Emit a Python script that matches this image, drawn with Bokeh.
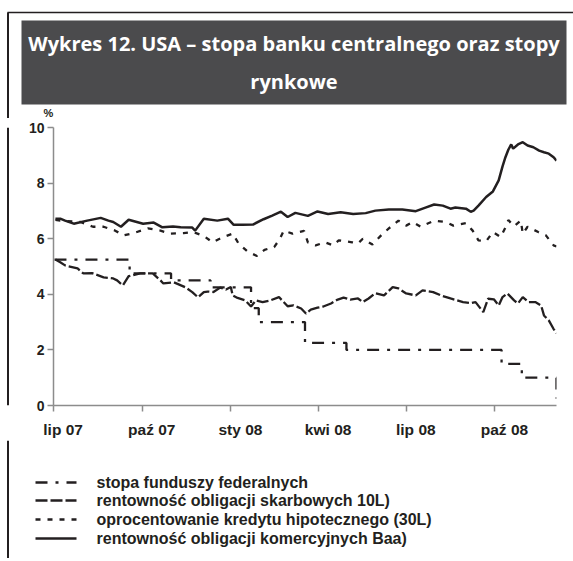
import pandas as pd
from bokeh.plotting import figure
from bokeh.models import Range1d, FixedTicker
from bokeh.layouts import column, row
from bokeh.embed import file_html
from bokeh.resources import INLINE
from bokeh.core.properties import value

# ---------------- data ----------------
TITLE_LINES = ["Wykres 12. USA \u2013 stopa banku centralnego oraz stopy", "rynkowe"]
Y_UNIT = "%"
tick_dates = ["2007-07-01", "2007-10-01", "2008-01-01", "2008-04-01", "2008-07-01", "2008-10-01"]
tick_labels = ["lip 07", "pa\u017a 07", "sty 08", "kwi 08", "lip 08", "pa\u017a 08"]
y_ticks = [0, 2, 4, 6, 8, 10]
x_start = "2007-07-01"
x_end = "2008-12-04"

legend_labels = [
    "stopa funduszy federalnych",
    "rentowno\u015b\u0107 obligacji skarbowych 10L)",
    "oprocentowanie kredytu hipotecznego (30L)",
    "rentowno\u015b\u0107 obligacji komercyjnych Baa)",
]

# federal funds target rate (step changes)
fed_dates = ["2007-07-02", "2007-09-18", "2007-10-31", "2007-12-11", "2008-01-22",
             "2008-01-30", "2008-03-18", "2008-04-30", "2008-10-08", "2008-10-29",
             "2008-12-04"]
fed_values = [5.25, 4.75, 4.50, 4.25, 3.50, 3.00, 2.25, 2.00, 1.50, 1.00, 0.25]

# 10-year treasury yield
t10_dates = ["2007-07-03", "2007-07-08", "2007-07-13", "2007-07-26", "2007-08-01",
             "2007-08-10", "2007-08-22", "2007-09-01", "2007-09-05", "2007-09-11",
             "2007-09-17", "2007-09-29", "2007-10-12", "2007-10-20", "2007-10-23",
             "2007-11-03", "2007-11-15", "2007-11-22", "2007-11-28", "2007-12-04",
             "2007-12-08", "2007-12-14", "2007-12-21", "2007-12-27", "2008-01-01",
             "2008-01-03", "2008-01-08", "2008-01-16", "2008-01-22", "2008-01-27",
             "2008-02-03", "2008-02-11", "2008-02-20", "2008-02-29", "2008-03-06",
             "2008-03-14", "2008-03-19", "2008-03-24", "2008-03-31", "2008-04-06",
             "2008-04-14", "2008-04-21", "2008-04-27", "2008-05-04", "2008-05-12",
             "2008-05-17", "2008-05-23", "2008-05-30", "2008-06-08", "2008-06-17",
             "2008-06-23", "2008-07-01", "2008-07-11", "2008-07-18", "2008-07-29",
             "2008-08-06", "2008-08-16", "2008-08-29", "2008-09-06", "2008-09-11",
             "2008-09-19", "2008-09-24", "2008-09-30", "2008-10-05", "2008-10-09",
             "2008-10-14", "2008-10-21", "2008-10-25", "2008-10-30", "2008-11-05",
             "2008-11-12", "2008-11-18", "2008-11-21", "2008-11-26", "2008-12-01",
             "2008-12-04"]
t10_values = [5.25, 5.15, 5.04, 4.93, 4.75, 4.76, 4.61, 4.57, 4.50, 4.32,
              4.65, 4.75, 4.75, 4.50, 4.39, 4.43, 4.25, 4.08, 3.89, 4.08,
              4.10, 4.08, 4.24, 4.17, 4.26, 3.96, 3.87, 3.78, 3.56, 3.78,
              3.72, 3.78, 3.90, 3.57, 3.60, 3.49, 3.31, 3.45, 3.52, 3.56,
              3.67, 3.81, 3.88, 3.81, 3.85, 3.72, 3.85, 4.04, 3.96, 4.26,
              4.21, 4.03, 3.96, 4.14, 4.08, 3.96, 3.85, 3.72, 3.68, 3.72,
              3.36, 3.84, 3.82, 3.60, 3.90, 4.03, 3.78, 3.67, 3.90, 3.72,
              3.72, 3.60, 3.24, 3.06, 2.75, 2.60]

# 30-year mortgage rate
mort_dates = ["2007-07-03", "2007-07-08", "2007-07-29", "2007-08-11", "2007-08-22",
              "2007-09-03", "2007-09-12", "2007-09-22", "2007-10-07", "2007-10-20",
              "2007-10-30", "2007-11-13", "2007-11-23", "2007-12-04", "2007-12-13",
              "2007-12-24", "2008-01-03", "2008-01-09", "2008-01-18", "2008-01-28",
              "2008-02-05", "2008-02-15", "2008-02-21", "2008-02-25", "2008-03-05",
              "2008-03-17", "2008-03-21", "2008-03-29", "2008-04-08", "2008-04-16",
              "2008-04-22", "2008-05-06", "2008-05-12", "2008-05-17", "2008-05-27",
              "2008-06-05", "2008-06-13", "2008-06-23", "2008-07-01", "2008-07-08",
              "2008-07-16", "2008-07-30", "2008-08-11", "2008-08-19", "2008-09-01",
              "2008-09-08", "2008-09-14", "2008-09-22", "2008-09-29", "2008-10-07",
              "2008-10-12", "2008-10-15", "2008-10-21", "2008-10-28", "2008-10-30",
              "2008-11-04", "2008-11-15", "2008-11-23", "2008-12-01", "2008-12-04"]
mort_values = [6.68, 6.65, 6.60, 6.43, 6.43, 6.29, 6.12, 6.20, 6.37, 6.29,
               6.18, 6.20, 6.24, 6.10, 5.87, 6.06, 6.18, 5.83, 5.55, 5.38,
               5.60, 5.70, 6.00, 6.29, 6.18, 6.28, 5.87, 5.76, 5.87, 5.76,
               5.94, 5.87, 5.83, 6.00, 5.79, 6.12, 6.37, 6.65, 6.47, 6.60,
               6.43, 6.65, 6.60, 6.47, 6.56, 6.29, 5.94, 5.91, 6.24, 6.06,
               6.40, 6.67, 6.45, 6.65, 6.18, 6.43, 6.24, 6.12, 5.76, 5.72]

# Baa corporate bond yield
baa_dates = ["2007-07-03", "2007-07-08", "2007-07-13", "2007-07-22", "2007-08-05",
             "2007-08-19", "2007-08-27", "2007-09-01", "2007-09-09", "2007-09-17",
             "2007-10-02", "2007-10-13", "2007-10-22", "2007-11-02", "2007-11-10",
             "2007-11-22", "2007-11-25", "2007-12-04", "2007-12-18", "2007-12-29",
             "2008-01-04", "2008-01-13", "2008-01-24", "2008-02-04", "2008-02-13",
             "2008-02-22", "2008-02-29", "2008-03-08", "2008-03-21", "2008-03-31",
             "2008-04-11", "2008-04-24", "2008-05-07", "2008-05-20", "2008-05-30",
             "2008-06-13", "2008-06-27", "2008-07-11", "2008-07-21", "2008-07-30",
             "2008-08-08", "2008-08-16", "2008-08-21", "2008-09-01", "2008-09-06",
             "2008-09-09", "2008-09-14", "2008-09-22", "2008-09-29", "2008-10-05",
             "2008-10-09", "2008-10-12", "2008-10-15", "2008-10-18", "2008-10-20",
             "2008-10-25", "2008-10-30", "2008-11-04", "2008-11-10", "2008-11-16",
             "2008-11-21", "2008-11-26", "2008-12-01", "2008-12-04"]
baa_values = [6.72, 6.72, 6.65, 6.54, 6.65, 6.75, 6.65, 6.60, 6.43, 6.68,
              6.54, 6.58, 6.41, 6.44, 6.41, 6.40, 6.29, 6.72, 6.65, 6.72,
              6.50, 6.50, 6.51, 6.70, 6.83, 6.97, 6.78, 6.93, 6.82, 6.98,
              6.89, 6.95, 6.89, 6.92, 7.01, 7.05, 7.05, 6.99, 7.12, 7.23,
              7.19, 7.08, 7.12, 7.08, 6.97, 7.01, 7.19, 7.50, 7.70, 8.10,
              8.60, 8.93, 9.20, 9.39, 9.24, 9.39, 9.47, 9.35, 9.29, 9.17,
              9.11, 9.06, 8.93, 8.81]

# ---------------- styling ----------------
INK = "#231f20"
AXIS = "#8c8c8c"
BAND = "#4b4b4d"
SANS = value("Liberation Sans")
TITLE_FONT = value("Open Sans")

DASH_FED = "12 8 3 8"
DASH_T10 = "12 3"
DASH_MORT = "5 7"

START = pd.Timestamp(x_start)


def days(ds):
    return [(pd.Timestamp(d) - START).days for d in ds]


W = 573


def blank(width, height, x0=0, y0=0):
    # pixel-coordinate panel (y grows downwards)
    f = figure(width=width, height=height, x_range=Range1d(x0, x0 + width),
               y_range=Range1d(y0 + height, y0),
               output_backend="svg", toolbar_location=None, min_border=0,
               x_axis_location=None, y_axis_location=None)
    f.grid.visible = False
    f.outline_line_color = None
    f.background_fill_color = "white"
    f.border_fill_color = "white"
    return f


# ---- title panel ----
H1 = 118
t = blank(W, H1)
t.line([7, W], [12, 12], line_color=INK, line_width=1.6)
t.line([7.5, 7.5], [12, H1], line_color=INK, line_width=2)
t.quad(left=[21], right=[566], top=[20], bottom=[104], fill_color=BAND, line_color=None)
t.text(x=[293.5, 293.5], y=[43, 81], text=TITLE_LINES, text_align="center", text_baseline="middle",
       text_color="white", text_font=TITLE_FONT, text_font_style="bold", text_font_size="20px")
t.text(x=[48], y=[112], text=[Y_UNIT], text_align="center", text_baseline="middle",
       text_color=INK, text_font=SANS, text_font_style="bold", text_font_size="11px")

# ---- main chart ----
H2 = 322
EW = 9
edge = blank(EW, H2, 0, H1)
edge.line([7.5, 7.5], [H1, H1 + H2], line_color=INK, line_width=2)

p = figure(width=W - EW, height=H2, x_range=Range1d(0, days([x_end])[0]), y_range=Range1d(0, 10),
           output_backend="svg", toolbar_location=None,
           min_border_left=44, min_border_right=17, min_border_top=9, min_border_bottom=35)
p.grid.visible = False
p.outline_line_color = None

p.step(days(fed_dates), fed_values, mode="after", line_color=INK, line_width=2.3, line_dash=DASH_FED)
p.line(days(t10_dates), t10_values, line_color=INK, line_width=2.3, line_dash=DASH_T10)
p.line(days(mort_dates), mort_values, line_color=INK, line_width=2.3, line_dash=DASH_MORT)
p.line(days(baa_dates), baa_values, line_color=INK, line_width=2.5)

tick_days = days(tick_dates)
label_pos = [d + 10 for d in tick_days]
p.xaxis.ticker = FixedTicker(ticks=label_pos, minor_ticks=tick_days)
p.xaxis.major_label_overrides = {k: lab for k, lab in zip(label_pos, tick_labels)}
p.xaxis.major_tick_line_color = None
p.xaxis.major_tick_out = 0
p.xaxis.major_tick_in = 0
p.xaxis.minor_tick_line_color = AXIS
p.xaxis.minor_tick_line_width = 1.5
p.xaxis.minor_tick_out = 6
p.xaxis.minor_tick_in = 0
p.xaxis.major_label_standoff = 9

p.yaxis.ticker = FixedTicker(ticks=y_ticks)
p.yaxis.minor_tick_line_color = None
p.yaxis.major_tick_out = 6
p.yaxis.major_tick_in = 0
p.yaxis.major_label_standoff = 3

for ax in (p.xaxis, p.yaxis):
    ax.axis_line_color = AXIS
    ax.axis_line_width = 1.5
    ax.major_tick_line_width = 1.5
    ax.major_label_text_font = "Liberation Sans"
    ax.major_label_text_font_style = "bold"
    ax.major_label_text_color = INK
p.xaxis.major_label_text_font_size = "15.5px"
p.yaxis.major_label_text_font_size = "14px"
p.yaxis.major_tick_line_color = AXIS

# ---- legend panel ----
H3 = 118
lg = blank(W, H3, 0, H1 + H2)
lg.line([7.5, 7.5], [H1 + H2, H1 + H2 + H3], line_color=INK, line_width=2)
rows_y = [482, 500, 519, 538]
dashes = [DASH_FED, DASH_T10, DASH_MORT, "solid"]
for yy, dd in zip(rows_y, dashes):
    lg.line([35, 76], [yy, yy], line_color=INK, line_width=2.6, line_dash=dd)
lg.text(x=[96] * 4, y=rows_y, text=legend_labels, text_align="left", text_baseline="middle",
        text_color=INK, text_font=SANS, text_font_style="bold", text_font_size="16px")

layout = column(t, row(edge, p), lg)

open("out.html", "w").write(file_html(layout, INLINE))
